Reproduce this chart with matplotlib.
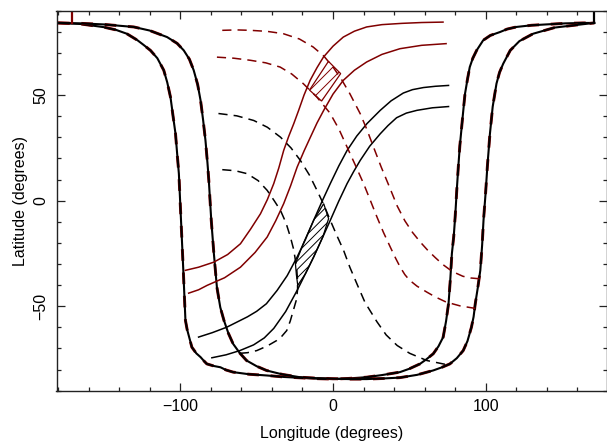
import matplotlib
matplotlib.use("Agg")
import matplotlib.pyplot as plt
from matplotlib.ticker import MultipleLocator, FixedLocator
from matplotlib.patches import Polygon

plt.rcParams['font.family'] = ['Liberation Sans', 'DejaVu Sans']
plt.rcParams['hatch.linewidth'] = 0.7

DARKRED = '#800000'

# ---- data (longitude, latitude in degrees) ----
curve_a_lon = [-180, -165, -150, -142, -135, -128, -124, -119.5, -115, -110.8, -108.5, -106.4, -104.7, -103.1,
               -102, -100.9, -99.5, -98, -97.3, -96.6, -95.5, -94.4, -92.4, -89.5, -86.7, -84.5, -82.6, -78,
               -73.7, -70, -65.4, -55, -43.1, -32, -21.6, -10, 0, 10, 22, 32, 43.8, 50, 56.9, 61, 65.6, 69,
               72.1, 74, 75.6, 76.7, 77.8, 79, 80, 81, 82, 83, 84.2, 85.3, 86.4, 88, 89.5, 91.5, 94, 98.3,
               103, 109.3, 114, 120, 130, 142, 152, 163.6, 171]
curve_a_lat = [84.2, 83.7, 82.2, 80.9, 79.1, 76, 73.8, 71.2, 67.5, 61.8, 56, 49.1, 40, 31.7,
               22, 12.8, -9.3, -33, -45, -56.7, -61, -64, -69.4, -72.3, -74.1, -75.9, -77.3, -78.3,
               -78.9, -80.2, -81.2, -82.2, -82.8, -83.5, -83.9, -84.3, -84.5, -84.2, -83.6, -82.6, -81.2, -79.6, -77.3, -75.2, -72.5, -69,
               -64.6, -57, -48.8, -38, -25, -17, -7, 5, 16, 26, 34.9, 43, 50.7, 57.5, 63.3, 67.5, 71.2, 76,
               78.3, 79.9, 81.3, 82.3, 83.1, 83.6, 84, 84.2, 84.2]

curve_b_lon = [-180, -165, -150, -130.4, -120, -108.6, -102, -97.7, -94, -91.2, -88.6, -86.7, -85, -83.5,
               -82.2, -81.3, -79.7, -78, -76, -73.8, -71.4, -68.5, -65.4, -61, -56.6, -50, -43.6, -33,
               -21.8, -10, 0, 10, 22, 33, 43.8, 55, 65.6, 71, 76.5, 81, 85.2, 88, 90.6, 92, 93.1, 94.8,
               96.4, 97.6, 98.5, 99.8, 101, 102.7, 104.5, 107, 109, 111.4, 116, 122, 131, 145, 163.6, 171]
curve_b_lat = [84.2, 84, 83.5, 82.3, 80.6, 77.5, 74.5, 71.2, 67, 61.8, 55, 47.5, 38, 28.6,
               18, 9.6, -9.3, -25, -41, -50.5, -56.7, -62.8, -67.8, -72.2, -75.7, -78.4, -80.4, -82.3,
               -83.6, -84.1, -84.3, -84.5, -84.5, -84.2, -83.8, -82.5, -80.4, -79, -77.3, -74.6, -71, -66.5, -59.9, -55, -48.8, -41,
               -33, -21, -9.3, 3, 16, 31.7, 44.5, 55.5, 60.8, 64.9, 71.2, 75.6, 79.1, 82, 83.6, 84.2]

end_left_lon = [-171, -171]
end_left_lat = [84.2, 90]
end_right_lon = [171, 171]
end_right_lat = [84.2, 90]

red_s1_lon = [-96.7, -88, -78, -69, -60.6, -54, -47.5, -43, -38.8, -35.5, -32.3, -29, -25.7, -22.5, -19, -15,
              -10.5, -6.3, 0, 6.7, 14, 22, 32, 45, 58, 72]
red_s1_lat = [-33, -31.5, -29.1, -25.5, -20.4, -13.5, -6.2, 0.5, 8.1, 15.5, 23.8, 30.5, 36.5, 42.8, 50, 57,
              63, 68, 73.2, 77.5, 80.3, 82.3, 83.4, 84, 84.4, 84.6]

red_s2_lon = [-94.5, -88, -82.4, -71, -60.6, -51, -43.1, -37.5, -32.3, -27.8, -23.5, -19, -14.8, -10.5, -6.1,
              0, 6.7, 14, 22, 32, 43.8, 58, 74]
red_s2_lat = [-43.8, -42.2, -40.1, -36.5, -31.5, -24.5, -17.2, -9.5, -1.4, 7, 15.9, 23.5, 30.1, 36.8, 42.8,
              50.5, 57, 61.8, 65.7, 69.3, 72, 73.6, 74.4]

black_s1_lon = [-88, -79, -69.5, -56, -50, -43.6, -36.6, -30, -23.5, -18, -12.7, -7.3, -1.8, 3.8, 9.2, 15.5, 22.2,
                30.9, 38, 46, 52, 59.2, 67, 75.6]
black_s1_lat = [-64.6, -62.5, -59.9, -55, -52.4, -48.8, -42.5, -35.5, -26.7, -18.3, -9.3, -0.5, 8.1, 16.5, 23.8, 30.6, 36.5,
                42.8, 47.3, 51, 52.6, 53.6, 54.2, 54.6]

black_s2_lon = [-79.3, -70, -61, -52, -45, -38.8, -31, -23.5, -18, -12.7, -7.2, -1.8, 3.7, 9.2, 13.5, 17.8,
                24, 30.9, 36, 41.6, 48, 54.9, 65, 75.6]
black_s2_lat = [-74.4, -73, -71, -68.3, -65, -60.5, -52.5, -42.5, -34.5, -26.7, -18, -9.3, -0.3, 8.1, 13.8, 19.1,
                25.8, 31.7, 35.6, 39.3, 41.5, 42.8, 44, 44.6]

black_d1_lon = [-75, -63, -51.9, -43, -34.4, -27.5, -21.4, -15.5, -10.5, -6, -1.8, 2.5, 6.9, 11, 16, 21,
                28.7, 34.8, 42, 50.2, 61.4, 74]
black_d1_lat = [41.3, 40.2, 38, 34.8, 30.1, 25, 19.1, 12.2, 4.9, -2, -9.3, -16.5, -23.5, -31.5, -40, -48.3,
                -57.3, -63.6, -68.6, -72.3, -75.7, -77.6]

black_d2_lon = [-72.5, -64, -56.2, -49, -43.1, -38.5, -34.4, -30.8, -27.9, -25.8, -24.6, -23.7, -23.2, -23.2,
                -24, -26, -28, -30.3, -33.5, -36.8, -43, -49.9, -56, -63]
black_d2_lat = [14.7, 14.2, 12.8, 9.5, 4.9, 0, -4.6, -10.5, -17.2, -23, -28.3, -33, -38, -42,
                -47, -52, -57, -61.5, -64.2, -66.2, -68.8, -71, -72, -72.4]

red_d1_lon = [-72.5, -63, -54, -43, -32.5, -22, -13, -6, 0, 5.5, 11, 17.8, 22, 26.5, 31.5, 37, 42, 47,
              52, 57, 62, 67, 72, 78, 85, 90, 96.2]
red_d1_lat = [80.7, 80.9, 80.7, 80.2, 79.1, 76.6, 72.8, 68.5, 63.3, 57.5, 50.7, 41.2, 34, 25.4, 16, 6.4, -2.5, -9.5,
              -15, -19.5, -23.5, -27, -30.3, -33.5, -35.8, -36.6, -37]

red_d2_lon = [-76, -65, -54, -44, -34.6, -27, -19.4, -10.5, -2, 3.8, 9.2, 14.5, 20, 24.5, 28.8, 33, 37.5, 41,
              44, 47, 50, 55, 61.4, 67, 74, 83, 93]
red_d2_lat = [68, 67.5, 66.5, 65.3, 63.3, 60, 55.4, 49, 41.5, 34, 25.4, 17, 8.1, 0, -7.8, -15, -22, -27.3,
              -31.5, -35, -37.6, -40.5, -43.3, -45.6, -48, -49.8, -51]

black_patch_lon = [-24.6, -19, -12.7, -6.1, -2.9, -6.6, -12.7, -18, -23.1, -24]
black_patch_lat = [-29.9, -19.5, -9.3, -1.4, -8.5, -17, -26.7, -34.5, -40.1, -35]

red_patch_lon = [-15.4, -3, 5, -7.5]
red_patch_lat = [52.4, 66, 60.2, 47.2]

x_major = [-100, 0, 100]
y_major = [-50, 0, 50]

# ---- figure ----
fig = plt.figure(figsize=(6.07, 4.43), dpi=100)
ax = fig.add_axes([56.5 / 607, (443 - 390.7) / 443, 550 / 607, 380 / 443])
ax.set_xlim(-181, 179)
ax.set_ylim(-90, 90)

dash = (6, 4)

# thick boundary curves: red dashed under black
for lon, lat in [(curve_a_lon, curve_a_lat), (curve_b_lon, curve_b_lat)]:
    ax.plot(lon, lat, color=DARKRED, lw=2.1, dashes=(4, 4), solid_capstyle='butt')
    ax.plot(lon, lat, color='black', lw=1.5)
ax.plot(end_left_lon, end_left_lat, color=DARKRED, lw=1.6)
ax.plot(end_right_lon, end_right_lat, color='black', lw=1.6)

# S curves
ax.plot(red_s1_lon, red_s1_lat, color=DARKRED, lw=1.1)
ax.plot(red_s2_lon, red_s2_lat, color=DARKRED, lw=1.1)
ax.plot(black_s1_lon, black_s1_lat, color='black', lw=1.1)
ax.plot(black_s2_lon, black_s2_lat, color='black', lw=1.1)

# dashed curves
ax.plot(black_d1_lon, black_d1_lat, color='black', lw=1.1, dashes=dash)
ax.plot(black_d2_lon, black_d2_lat, color='black', lw=1.1, dashes=dash)
ax.plot(red_d1_lon, red_d1_lat, color=DARKRED, lw=1.1, dashes=dash)
ax.plot(red_d2_lon, red_d2_lat, color=DARKRED, lw=1.1, dashes=dash)

# hatched regions
ax.add_patch(Polygon(list(zip(black_patch_lon, black_patch_lat)), closed=True,
                     facecolor='none', edgecolor='black', hatch='////', lw=0.9))
ax.add_patch(Polygon(list(zip(red_patch_lon, red_patch_lat)), closed=True,
                     facecolor='none', edgecolor=DARKRED, hatch='///', lw=0.9))

# axes styling
ax.xaxis.set_major_locator(FixedLocator(x_major))
ax.yaxis.set_major_locator(FixedLocator(y_major))
ax.xaxis.set_minor_locator(MultipleLocator(20))
ax.yaxis.set_minor_locator(MultipleLocator(10))
ax.tick_params(which='both', direction='in', top=True, right=True, width=0.9, color='#222222')
ax.tick_params(which='major', length=6)
ax.tick_params(which='minor', length=3)
ax.tick_params(axis='x', labelsize=11.5, pad=6)
ax.tick_params(axis='y', labelsize=11.5, pad=6, labelrotation=90)
for lab in ax.get_yticklabels():
    lab.set_va('center')
for sp in ax.spines.values():
    sp.set_linewidth(1.0)
    sp.set_color('#222222')

ax.set_xlabel('Longitude (degrees)', fontsize=11.5)
ax.set_ylabel('Latitude (degrees)', fontsize=11.5)
ax.xaxis.set_label_coords(0.5, -0.092)
ax.yaxis.set_label_coords(-0.052, 0.5)

fig.savefig('out.png', dpi=100)
